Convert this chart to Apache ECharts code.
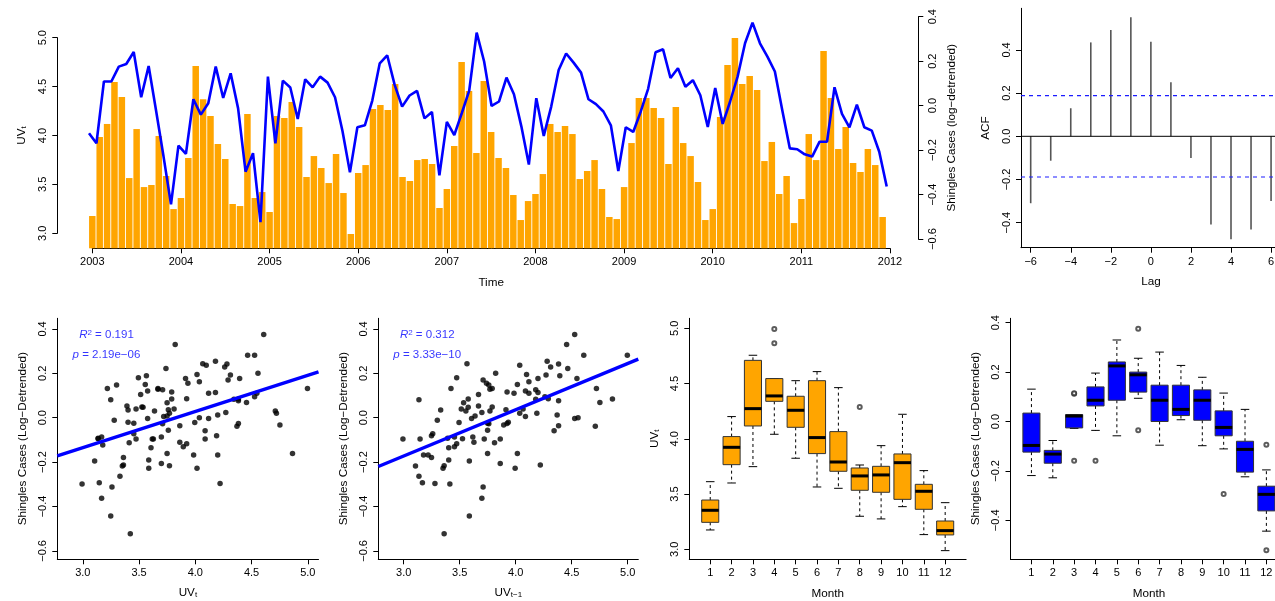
<!DOCTYPE html>
<html>
<head>
<meta charset="utf-8">
<script src="https://cdn.jsdelivr.net/npm/echarts@6/dist/echarts.min.js"></script>
<style>
  html, body { margin: 0; padding: 0; background: #ffffff; }
  #chart { width: 1275px; height: 601px; }
</style>
</head>
<body>
<div id="chart"></div>
<script>
// ---- Monthly series, Jan 2003 to Dec 2011 ----
const startYear = 2003;
const uvMonthly = [
  3.177, 3.985, 4.118, 4.547, 4.394, 3.565, 4.066, 3.473, 3.494, 3.995, 3.586, 3.248,
  3.361, 3.770, 4.711, 4.370, 4.199, 3.913, 3.760, 3.300, 3.279, 4.220, 3.361, 3.422,
  3.218, 4.199, 4.179, 4.343, 4.087, 3.576, 3.790, 3.668, 3.514, 3.811, 3.412, 2.993,
  3.617, 3.698, 4.271, 4.312, 4.261, 4.527, 3.576, 3.535, 3.749, 3.760, 3.709, 3.259,
  3.453, 3.893, 4.752, 4.455, 3.821, 4.557, 4.036, 3.770, 3.668, 3.392, 3.136, 3.330,
  3.402, 3.606, 4.118, 4.036, 4.097, 4.015, 3.555, 3.637, 3.749, 3.453, 3.167, 3.146,
  3.473, 3.923, 4.383, 4.383, 4.281, 4.179, 3.709, 4.291, 3.923, 3.790, 3.525, 3.136,
  3.248, 4.189, 4.721, 4.997, 4.527, 4.608, 4.465, 3.739, 3.934, 3.402, 3.586, 3.105,
  3.351, 4.015, 3.749, 4.864, 4.383, 3.862, 4.087, 3.719, 3.627, 3.862, 3.698, 3.167
];
const shinglesMonthly = [
  -0.123, -0.168,  0.110,  0.110,  0.177,  0.189,  0.243,  0.039,  0.180, -0.022, -0.228, -0.443,
  -0.179, -0.216,  0.030, -0.039,  0.012,  0.177,  0.036,  0.147, -0.011, -0.296, -0.213, -0.523,
   0.132, -0.168,  0.114,  0.083, -0.059,  0.120,  0.084,  0.132,  0.105,  0.039, -0.113, -0.299,
  -0.096, -0.087,  0.024,  0.192,  0.228,  0.095, -0.003,  0.047,  0.068, -0.056, -0.027, -0.312,
  -0.072, -0.131, -0.033,  0.069,  0.330,  0.200,  0.000,  0.020,  0.128,  0.053, -0.093, -0.264,
   0.035, -0.135, -0.003,  0.162,  0.236,  0.195,  0.150,  0.030,  0.008, -0.025, -0.087, -0.293,
  -0.096, -0.117, -0.026,  0.077,  0.242,  0.255,  0.126,  0.170,  0.086,  0.116,  0.048, -0.095,
   0.081, -0.081,  0.020,  0.132,  0.282,  0.375,  0.282,  0.222,  0.155, -0.020, -0.191, -0.195,
  -0.218, -0.228, -0.161, -0.161,  0.084, -0.036, -0.096,  0.006, -0.096, -0.111, -0.206, -0.363
];
const yearTicks = [2003, 2004, 2005, 2006, 2007, 2008, 2009, 2010, 2011, 2012];

// ---- Cross-correlation by lag ----
const acfLags = [-6, -5, -4, -3, -2, -1, 0, 1, 2, 3, 4, 5, 6];
const acfValues = [-0.310, -0.113, 0.130, 0.435, 0.492, 0.551, 0.438, 0.251, -0.100, -0.409, -0.477, -0.432, -0.300];
const acfBound = 0.1886;
const lagTicks = [-6, -4, -2, 0, 2, 4, 6];
const acfTicks = [-0.4, -0.2, 0, 0.2, 0.4];

// ---- Linear fits ----
const fitCurrent = { intercept: -0.624, slope: 0.163, r2: '0.191', p: '2.19e\u221206' };
const fitLagged  = { intercept: -0.798, slope: 0.2085, r2: '0.312', p: '3.33e\u221210' };
const uvTicks = [3.0, 3.5, 4.0, 4.5, 5.0];
const shTicks = [-0.6, -0.4, -0.2, 0, 0.2, 0.4];

// ---- Monthly box summaries: [lower whisker, Q1, median, Q3, upper whisker] ----
const months = [1, 2, 3, 4, 5, 6, 7, 8, 9, 10, 11, 12];
const uvBox = [
  [3.175, 3.244, 3.353, 3.446, 3.612],
  [3.600, 3.766, 3.923, 4.020, 4.201],
  [3.748, 4.116, 4.273, 4.710, 4.756],
  [4.041, 4.339, 4.388, 4.545, 4.545],
  [3.824, 4.104, 4.258, 4.385, 4.526],
  [3.564, 3.866, 4.011, 4.526, 4.608],
  [3.552, 3.706, 3.790, 4.065, 4.463],
  [3.299, 3.534, 3.664, 3.736, 3.763],
  [3.275, 3.516, 3.673, 3.751, 3.938],
  [3.386, 3.452, 3.784, 3.863, 4.222],
  [3.133, 3.362, 3.525, 3.588, 3.712],
  [2.988, 3.130, 3.169, 3.256, 3.422]
];
const uvOutliers = [[4, 4.994], [4, 4.864], [8, 4.288]];
const shBox = [
  [-0.219, -0.124, -0.097,  0.034,  0.131],
  [-0.228, -0.169, -0.132, -0.117, -0.077],
  [-0.028, -0.026,  0.022,  0.028,  0.028],
  [-0.036,  0.063,  0.086,  0.140,  0.196],
  [-0.058,  0.086,  0.225,  0.241,  0.330],
  [ 0.094,  0.119,  0.189,  0.200,  0.256],
  [-0.096,  0.000,  0.086,  0.147,  0.281],
  [ 0.007,  0.024,  0.049,  0.147,  0.227],
  [-0.098,  0.005,  0.086,  0.128,  0.179],
  [-0.111, -0.058, -0.024,  0.043,  0.115],
  [-0.224, -0.205, -0.113, -0.080,  0.049],
  [-0.444, -0.362, -0.295, -0.262, -0.196]
];
const shOutliers = [[3, 0.112], [3, 0.114], [3, -0.159], [4, -0.159], [6, 0.375], [6, -0.035], [10, -0.294], [12, -0.094], [12, -0.521]];
const uvBoxTicks = [3.0, 3.5, 4.0, 4.5, 5.0];
const shBoxTicks = [-0.4, -0.2, 0, 0.2, 0.4];

// ---- Styling helpers ----
const FONT = '"Liberation Sans", Helvetica, Arial, sans-serif';
const INK = '#000000';
const ORANGE = '#FFA500';
const BLUE = '#0000FF';
const BOUND_BLUE = '#1c1cff';

const fmt1 = v => { const r = Math.round(v * 10) / 10; return (r < 0 ? '\u2212' : '') + Math.abs(r).toFixed(1); };
const fmtInt = v => { const r = Math.round(v); return (r < 0 ? '\u2212' : '') + Math.abs(r); };

const nameRich = {
  b: { fontSize: 11.7, fontFamily: FONT, color: INK },
  s: { fontSize: 8, fontFamily: FONT, color: INK, verticalAlign: 'bottom', lineHeight: 4 }
};

function shownAxis(base, o) {
  return Object.assign(base, {
    show: true,
    axisLine: { show: true, onZero: false, lineStyle: { color: INK, width: 1 } },
    axisTick: { show: true, inside: false, length: 5, lineStyle: { color: INK, width: 1 }, customValues: o.ticks },
    axisLabel: {
      show: true, color: INK, fontSize: 11, fontFamily: FONT,
      margin: o.margin != null ? o.margin : 8.5, rotate: o.rotate || 0,
      formatter: o.fmt, customValues: o.ticks
    },
    splitLine: { show: false },
    name: o.name || '',
    nameLocation: 'middle',
    nameGap: o.nameGap || 28,
    nameMoveOverlap: false,
    nameTextStyle: { color: INK, fontSize: 11.7, fontFamily: FONT, rich: nameRich }
  });
}
const hiddenAxis = (gridIndex, min, max) => ({ gridIndex, type: 'value', min, max, show: false });

function boxRenderer(fill) {
  return function (params, api) {
    const m = api.value(0), lo = api.value(1), q1 = api.value(2), med = api.value(3), q3 = api.value(4), hi = api.value(5);
    const c = (x, y) => api.coord([x, y]);
    const seg = (xa, ya, xb, yb, style) => {
      const a = c(xa, ya), b = c(xb, yb);
      return { type: 'line', shape: { x1: a[0], y1: a[1], x2: b[0], y2: b[1] }, style };
    };
    const dashed = { stroke: INK, lineWidth: 1, lineDash: [3, 3] };
    const solid = { stroke: INK, lineWidth: 1 };
    const tl = c(m - 0.4, q3), br = c(m + 0.4, q1);
    return {
      type: 'group',
      children: [
        seg(m, q3, m, hi, dashed),
        seg(m, q1, m, lo, dashed),
        seg(m - 0.2, hi, m + 0.2, hi, solid),
        seg(m - 0.2, lo, m + 0.2, lo, solid),
        { type: 'rect', shape: { x: tl[0], y: tl[1], width: br[0] - tl[0], height: br[1] - tl[1] },
          style: { fill, stroke: '#333333', lineWidth: 1 } },
        seg(m - 0.4, med, m + 0.4, med, { stroke: INK, lineWidth: 3 })
      ]
    };
  };
}

function fitLine(fit, xmin, xmax) {
  return [xmin, xmax].map(x => [x, fit.intercept + fit.slope * x]);
}

function fitLabels(fit, xIdx, yIdx) {
  const rich = {
    i: { fontStyle: 'italic', fontSize: 11.5, fontFamily: FONT, color: BLUE },
    t: { fontSize: 11.5, fontFamily: FONT, color: BLUE },
    sup: { fontSize: 8, fontFamily: FONT, color: BLUE, verticalAlign: 'top', lineHeight: 6 }
  };
  return {
    type: 'scatter', xAxisIndex: xIdx, yAxisIndex: yIdx, silent: true, z: 5,
    symbolSize: 1, itemStyle: { color: 'rgba(0,0,0,0)' },
    data: [
      { value: [3.21, 0.373], label: { formatter: '{i|R}{sup|2}{t| = ' + fit.r2 + '}' } },
      { value: [3.21, 0.283], label: { formatter: '{i|p}{t| = ' + fit.p + '}' } }
    ],
    label: { show: true, position: 'inside', rich }
  };
}

const SC_MIN = 2.773, SC_MAX = 5.095;
const LAG_MIN = -6.484, LAG_MAX = 6.496;

const grids = [
  { left: 57.3, top: 10, width: 861, height: 238.3 },     // 0 time series data
  { left: 92.3, top: 10, width: 797.7, height: 238.3 },   // 1 time axis
  { left: 57.3, top: 37.7, width: 861, height: 195.6 },   // 2 UV axis
  { left: 57.3, top: 16.7, width: 861, height: 222.3 },   // 3 shingles axis
  { left: 1021, top: 8.3, width: 260, height: 239.4 },    // 4 ACF
  { left: 57.3, top: 318.3, width: 261.2, height: 241 },  // 5 scatter UV_t
  { left: 378.3, top: 318.3, width: 260, height: 241 },   // 6 scatter UV_t-1
  { left: 689.3, top: 318.3, width: 276.8, height: 241 }, // 7 UV by month
  { left: 1010.5, top: 318.3, width: 276.8, height: 241 } // 8 shingles by month
].map(g => Object.assign({ containLabel: false, outerBoundsMode: 'none', show: false }, g));

const xAxis = [
  hiddenAxis(0, 2002.605, 2012.319),
  hiddenAxis(0, -4.252, 111.239),
  shownAxis({ gridIndex: 1, type: 'value', min: 2003, max: 2012, interval: 1 },
            { ticks: yearTicks, fmt: fmtInt, name: 'Time', nameGap: 28 }),
  hiddenAxis(2, 0, 1),
  hiddenAxis(3, 0, 1),
  shownAxis({ gridIndex: 4, type: 'value', min: LAG_MIN, max: LAG_MAX },
            { ticks: lagTicks, fmt: fmtInt, name: 'Lag', nameGap: 28 }),
  shownAxis({ gridIndex: 5, type: 'value', min: SC_MIN, max: SC_MAX },
            { ticks: uvTicks, fmt: fmt1, name: '{b|UV}{s|t}', nameGap: 27 }),
  shownAxis({ gridIndex: 6, type: 'value', min: SC_MIN, max: SC_MAX },
            { ticks: uvTicks, fmt: fmt1, name: '{b|UV}{s|t\u22121}', nameGap: 27 }),
  shownAxis({ gridIndex: 7, type: 'value', min: 0.02, max: 12.98 },
            { ticks: months, fmt: fmtInt, name: 'Month', nameGap: 28 }),
  shownAxis({ gridIndex: 8, type: 'value', min: 0.02, max: 12.98 },
            { ticks: months, fmt: fmtInt, name: 'Month', nameGap: 28 })
];

const yAxis = [
  hiddenAxis(0, 2.847, 5.283),
  hiddenAxis(0, -0.641, 0.432),
  hiddenAxis(1, 0, 1),
  shownAxis({ gridIndex: 2, type: 'value', min: 3, max: 5, interval: 0.5, position: 'left' },
            { ticks: uvTicks, fmt: fmt1, rotate: 90, margin: 9, name: '{b|UV}{s|t}', nameGap: 30 }),
  shownAxis({ gridIndex: 3, type: 'value', min: -0.6, max: 0.4, interval: 0.2, position: 'right' },
            { ticks: shTicks, fmt: fmt1, rotate: 90, margin: 9, name: 'Shingles Cases (log\u2212detrended)', nameGap: 27 }),
  shownAxis({ gridIndex: 4, type: 'value', min: -0.516, max: 0.593 },
            { ticks: acfTicks, fmt: fmt1, rotate: 90, margin: 9, name: 'ACF', nameGap: 29 }),
  shownAxis({ gridIndex: 5, type: 'value', min: -0.638, max: 0.448 },
            { ticks: shTicks, fmt: fmt1, rotate: 90, margin: 9, name: 'Shingles Cases (Log\u2212Detrended)', nameGap: 29 }),
  shownAxis({ gridIndex: 6, type: 'value', min: -0.638, max: 0.448 },
            { ticks: shTicks, fmt: fmt1, rotate: 90, margin: 9, name: 'Shingles Cases (Log\u2212Detrended)', nameGap: 29 }),
  shownAxis({ gridIndex: 7, type: 'value', min: 2.9095, max: 5.0905 },
            { ticks: uvBoxTicks, fmt: fmt1, rotate: 90, margin: 9, name: '{b|UV}{s|t}', nameGap: 29 }),
  shownAxis({ gridIndex: 8, type: 'value', min: -0.558, max: 0.4178 },
            { ticks: shBoxTicks, fmt: fmt1, rotate: 90, margin: 9, name: 'Shingles Cases (Log\u2212Detrended)', nameGap: 29 })
];

// horizontal reference line across the lag range
const hLine = (y, style) => ({
  type: 'line', xAxisIndex: 5, yAxisIndex: 5, symbol: 'none', silent: true, clip: false, z: 3,
  lineStyle: style, data: [[LAG_MIN, y], [LAG_MAX, y]]
});

const series = [
  // UV bars (left scale) and shingles line (right scale)
  {
    type: 'bar', xAxisIndex: 0, yAxisIndex: 0, clip: true, barWidth: 6.5,
    itemStyle: { color: ORANGE },
    data: uvMonthly.map((v, k) => [startYear + k / 12, v])
  },
  {
    type: 'line', xAxisIndex: 1, yAxisIndex: 1, symbol: 'none', clip: false, z: 4,
    lineStyle: { color: BLUE, width: 2.6 },
    data: shinglesMonthly.map((v, k) => [k, v])
  },
  // cross-correlation spikes, zero line and confidence bounds
  {
    type: 'bar', xAxisIndex: 5, yAxisIndex: 5, barWidth: 1.6,
    itemStyle: { color: '#555555' },
    data: acfLags.map((l, i) => [l, acfValues[i]])
  },
  hLine(0, { color: INK, type: 'solid', width: 1 }),
  hLine(acfBound, { color: BOUND_BLUE, type: [4, 4], width: 1.2 }),
  hLine(-acfBound, { color: BOUND_BLUE, type: [4, 4], width: 1.2 }),
  // shingles vs current UV
  {
    type: 'scatter', xAxisIndex: 6, yAxisIndex: 6, symbolSize: 5.5,
    itemStyle: { color: INK },
    data: uvMonthly.map((u, k) => [u, shinglesMonthly[k]])
  },
  {
    type: 'line', xAxisIndex: 6, yAxisIndex: 6, symbol: 'none', z: 3,
    lineStyle: { color: BLUE, width: 3.4 },
    data: fitLine(fitCurrent, SC_MIN, SC_MAX)
  },
  fitLabels(fitCurrent, 6, 6),
  // shingles vs previous month's UV
  {
    type: 'scatter', xAxisIndex: 7, yAxisIndex: 7, symbolSize: 5.5,
    itemStyle: { color: INK },
    data: shinglesMonthly.slice(1).map((s, i) => [uvMonthly[i], s])
  },
  {
    type: 'line', xAxisIndex: 7, yAxisIndex: 7, symbol: 'none', z: 3,
    lineStyle: { color: BLUE, width: 3.4 },
    data: fitLine(fitLagged, SC_MIN, SC_MAX)
  },
  fitLabels(fitLagged, 7, 7),
  // monthly boxes
  {
    type: 'custom', xAxisIndex: 8, yAxisIndex: 8, renderItem: boxRenderer(ORANGE),
    data: months.map((m, i) => [m].concat(uvBox[i]))
  },
  {
    type: 'scatter', xAxisIndex: 8, yAxisIndex: 8, symbol: 'emptyCircle', symbolSize: 4,
    itemStyle: { color: '#333333', borderWidth: 1 }, data: uvOutliers
  },
  {
    type: 'custom', xAxisIndex: 9, yAxisIndex: 9, renderItem: boxRenderer(BLUE),
    data: months.map((m, i) => [m].concat(shBox[i]))
  },
  {
    type: 'scatter', xAxisIndex: 9, yAxisIndex: 9, symbol: 'emptyCircle', symbolSize: 4,
    itemStyle: { color: '#333333', borderWidth: 1 }, data: shOutliers
  }
];

const chart = echarts.init(document.getElementById('chart'), null, { renderer: 'canvas' });
chart.setOption({
  animation: false,
  backgroundColor: '#ffffff',
  textStyle: { fontFamily: FONT },
  grid: grids,
  xAxis,
  yAxis,
  series
});
</script>
</body>
</html>
